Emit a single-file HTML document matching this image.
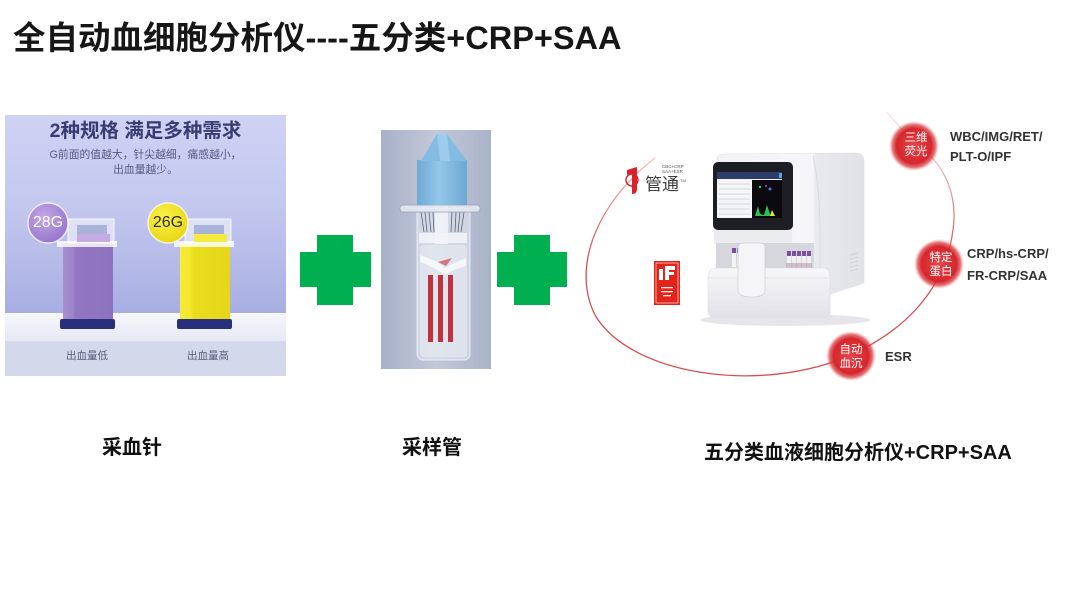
<!DOCTYPE html>
<html>
<head>
<meta charset="utf-8">
<style>
  html,body{margin:0;padding:0;}
  body{width:1080px;height:608px;position:relative;background:#ffffff;overflow:hidden;
       font-family:"Liberation Sans","Noto Sans CJK SC",sans-serif;}
  .t{position:absolute;white-space:nowrap;}
  svg{position:absolute;left:0;top:0;}
</style>
</head>
<body>
<svg width="1080" height="608" viewBox="0 0 1080 608" xmlns="http://www.w3.org/2000/svg">
  <defs>
    <linearGradient id="bgL" x1="0" y1="115" x2="0" y2="313" gradientUnits="userSpaceOnUse">
      <stop offset="0" stop-color="#cfd2f3"/>
      <stop offset="0.45" stop-color="#c4c8ef"/>
      <stop offset="1" stop-color="#a8aee2"/>
    </linearGradient>
    <linearGradient id="floor" x1="0" y1="313" x2="0" y2="341" gradientUnits="userSpaceOnUse">
      <stop offset="0" stop-color="#f6f7fc"/>
      <stop offset="1" stop-color="#e6e8f4"/>
    </linearGradient>
    <linearGradient id="purp" x1="0" y1="0" x2="1" y2="0">
      <stop offset="0" stop-color="#a88fd0"/>
      <stop offset="0.2" stop-color="#9c82c9"/>
      <stop offset="0.25" stop-color="#9276c2"/>
      <stop offset="1" stop-color="#8d72bf"/>
    </linearGradient>
    <linearGradient id="yel" x1="0" y1="0" x2="1" y2="0">
      <stop offset="0" stop-color="#f5ec3a"/>
      <stop offset="0.22" stop-color="#f3e62a"/>
      <stop offset="0.27" stop-color="#ebdc1c"/>
      <stop offset="1" stop-color="#e6d61a"/>
    </linearGradient>
    <radialGradient id="pbadge" cx="0.4" cy="0.35" r="0.7">
      <stop offset="0" stop-color="#c3a8e6"/>
      <stop offset="1" stop-color="#9473cc"/>
    </radialGradient>
    <radialGradient id="ybadge" cx="0.4" cy="0.35" r="0.7">
      <stop offset="0" stop-color="#fbf24a"/>
      <stop offset="1" stop-color="#e8d512"/>
    </radialGradient>
    <linearGradient id="tubeBg" x1="0" y1="0" x2="1" y2="0">
      <stop offset="0" stop-color="#a9b1c8"/>
      <stop offset="0.5" stop-color="#c2c8d8"/>
      <stop offset="1" stop-color="#aab2c9"/>
    </linearGradient>
    <linearGradient id="capB" x1="0" y1="0" x2="1" y2="0">
      <stop offset="0" stop-color="#6fa9d6"/>
      <stop offset="0.45" stop-color="#93c6e8"/>
      <stop offset="1" stop-color="#6ea7d4"/>
    </linearGradient>
    <linearGradient id="arcG" x1="0" y1="105" x2="0" y2="260" gradientUnits="userSpaceOnUse">
      <stop offset="0" stop-color="#e06a6a" stop-opacity="0.15"/>
      <stop offset="1" stop-color="#d23a3e" stop-opacity="0.9"/>
    </linearGradient>
    <radialGradient id="bub" cx="0.5" cy="0.5" r="0.5">
      <stop offset="0" stop-color="#e4474b"/>
      <stop offset="0.7" stop-color="#d6262c"/>
      <stop offset="0.86" stop-color="#d8353a" stop-opacity="0.7"/>
      <stop offset="1" stop-color="#ec8a8a" stop-opacity="0"/>
    </radialGradient>
    <linearGradient id="mBody" x1="0" y1="0" x2="1" y2="0">
      <stop offset="0" stop-color="#f2f2f4"/>
      <stop offset="0.65" stop-color="#f6f6f8"/>
      <stop offset="0.67" stop-color="#e8e9ec"/>
      <stop offset="1" stop-color="#e1e2e6"/>
    </linearGradient>
    <linearGradient id="mBase" x1="0" y1="0" x2="0" y2="1">
      <stop offset="0" stop-color="#f7f7f9"/>
      <stop offset="1" stop-color="#e2e2e6"/>
    </linearGradient>
  </defs>

  <!-- ========== Lancet panel ========== -->
  <rect x="5" y="115" width="281" height="198" fill="url(#bgL)"/>
  <rect x="5" y="313" width="281" height="28" fill="url(#floor)"/>
  <rect x="5" y="341" width="281" height="35" fill="#d4d8eb"/>

  <!-- purple lancet -->
  <rect x="63" y="243" width="50" height="80" fill="url(#purp)"/>
  <rect x="60" y="319" width="55" height="10" rx="2" fill="#28307c"/>
  <rect x="57" y="241" width="60" height="6" fill="#ffffff" fill-opacity="0.8"/>
  <rect x="68" y="219" width="46" height="24" fill="#ffffff" fill-opacity="0.5" stroke="#ffffff" stroke-opacity="0.8"/>
  <rect x="77" y="225" width="30" height="9" fill="#a9b2d8"/>
  <rect x="77" y="234" width="33" height="8" fill="#c6aae3"/>
  <circle cx="48" cy="223" r="20" fill="url(#pbadge)" stroke="#ffffff" stroke-opacity="0.75" stroke-width="1.5"/>

  <!-- yellow lancet -->
  <rect x="180" y="243" width="50" height="80" fill="url(#yel)"/>
  <rect x="177" y="319" width="55" height="10" rx="2" fill="#28307c"/>
  <rect x="174" y="241" width="60" height="6" fill="#ffffff" fill-opacity="0.8"/>
  <rect x="185" y="219" width="46" height="24" fill="#ffffff" fill-opacity="0.5" stroke="#ffffff" stroke-opacity="0.8"/>
  <rect x="194" y="225" width="30" height="9" fill="#a9b2d8"/>
  <rect x="194" y="234" width="33" height="8" fill="#f4ea40"/>
  <circle cx="168" cy="223" r="20" fill="url(#ybadge)" stroke="#ffffff" stroke-opacity="0.75" stroke-width="1.5"/>

  <!-- ========== green crosses ========== -->
  <rect x="317" y="235" width="36" height="70" fill="#00b050"/>
  <rect x="300" y="252" width="71" height="35" fill="#00b050"/>
  <rect x="514" y="235" width="36" height="70" fill="#00b050"/>
  <rect x="497" y="252" width="70" height="35" fill="#00b050"/>

  <!-- ========== Tube panel ========== -->
  <rect x="381" y="130" width="110" height="239" fill="url(#tubeBg)"/>
  <rect x="417" y="208" width="53" height="152" rx="6" fill="#e4e9f2" fill-opacity="0.55" stroke="#f4f6fa" stroke-opacity="0.8"/>
  <rect x="420" y="245" width="47" height="112" rx="4" fill="#eef1f7" fill-opacity="0.45"/>
  <g stroke="#5d6373" stroke-width="0.8">
    <line x1="421" y1="212" x2="424" y2="232"/><line x1="425" y1="212" x2="427" y2="232"/>
    <line x1="429" y1="212" x2="431" y2="232"/><line x1="433" y1="212" x2="434" y2="232"/>
    <line x1="452" y1="212" x2="451" y2="232"/><line x1="456" y1="212" x2="455" y2="232"/>
    <line x1="460" y1="212" x2="458" y2="232"/><line x1="464" y1="212" x2="461" y2="232"/>
  </g>
  <rect x="435" y="200" width="13" height="44" fill="#f1f3f8" fill-opacity="0.9"/>
  <rect x="419" y="233" width="48" height="10" fill="#f3f5f9" fill-opacity="0.85"/>
  <path d="M420 255 Q 440 262 445 268 Q 455 262 466 258 L 466 266 Q 452 270 445 275 Q 432 266 420 262 Z" fill="#ffffff" fill-opacity="0.7"/>
  <path d="M438 262 L 452 258 L 446 266 Z" fill="#d25a66" fill-opacity="0.8"/>
  <rect x="428" y="275" width="5" height="67" fill="#c2323e"/>
  <rect x="438" y="275" width="5" height="67" fill="#c2323e"/>
  <rect x="448" y="275" width="5" height="67" fill="#c2323e"/>
  <rect x="400" y="205" width="80" height="7" rx="3" fill="#e6eaf2" fill-opacity="0.85" stroke="#98a0b4" stroke-width="0.8"/>
  <rect x="417" y="160" width="50" height="45" fill="url(#capB)"/>
  <polygon points="421,161 437,134 447,134 465,158 465,161" fill="#84bbe2"/>
  <polygon points="437,134 447,134 450,161 440,161" fill="#9ccbeb"/>

  <!-- ========== Right: analyzer ========== -->
  <path d="M655 158 C 600 200, 570 265, 595 315 C 630 375, 760 395, 851 355 C 905 330, 945 290, 953 230 C 958 195, 945 165, 918 145 C 905 133, 895 122, 887 112"
        fill="none" stroke="url(#arcG)" stroke-width="1.3"/>

  <!-- logo -->
  <path d="M627 170 L 637 167 L 637 189 Q 637 194 632 194 L 632 174 L 627 175 Z" fill="#d8232a"/>
  <circle cx="632" cy="180" r="6" fill="none" stroke="#d8232a" stroke-width="1.4"/>
  <!-- iF award -->
  <rect x="654" y="261" width="26" height="44" fill="#e1251b"/>
  <rect x="656" y="263" width="22" height="40" fill="none" stroke="#ffffff" stroke-width="0.6"/>
  <rect x="659" y="266" width="4" height="14" fill="#ffffff"/>
  <rect x="659" y="266" width="4" height="3" fill="#e1251b"/>
  <rect x="665" y="266" width="10" height="4" fill="#ffffff"/>
  <rect x="665" y="266" width="4" height="14" fill="#ffffff"/>
  <rect x="665" y="272" width="9" height="3" fill="#ffffff"/>
  <g fill="#ffffff" fill-opacity="0.9">
    <rect x="661" y="287" width="12" height="1.3"/>
    <rect x="661" y="291" width="12" height="1.3"/>
    <rect x="663" y="295" width="8" height="1.3"/>
  </g>

  <!-- machine shadow -->
  <ellipse cx="785" cy="320" rx="85" ry="6" fill="#e6e6ea"/>
  <!-- right tower -->
  <path d="M717 160 Q 717 154 724 154 L 855 153 Q 864 153 864 162 L 864 283 L 812 300 L 717 300 Z" fill="url(#mBody)" stroke="#e0e0e4" stroke-width="0.6"/>
  <path d="M813 156 Q 820 190 820 230 L 820 295" fill="none" stroke="#d6d7dc" stroke-width="0.8"/>
  <g stroke="#cfd0d5" stroke-width="0.8">
    <line x1="850" y1="255" x2="858" y2="253"/><line x1="850" y1="259" x2="858" y2="257"/>
    <line x1="850" y1="263" x2="858" y2="261"/><line x1="850" y1="267" x2="858" y2="265"/>
    <line x1="850" y1="271" x2="858" y2="269"/>
  </g>
  <!-- screen bezel -->
  <rect x="713" y="162" width="80" height="68" rx="5" fill="#1c1e23"/>
  <rect x="717" y="172" width="65" height="46" fill="#f4f5f7"/>
  <rect x="717" y="172" width="65" height="7" fill="#2d3d6b"/>
  <rect x="779" y="173" width="3" height="5" fill="#4fa3e3"/>
  <rect x="752" y="180" width="30" height="38" fill="#0a0a0f"/>
  <circle cx="760" cy="187" r="1.2" fill="#38d060"/>
  <circle cx="770" cy="189" r="1.5" fill="#4a7ef0"/>
  <circle cx="766" cy="186" r="1" fill="#d040d0"/>
  <path d="M755 216 L 758 206 L 760 214 L 764 215 L 767 205 L 770 214 L 776 216 Z" fill="#30c050"/>
  <path d="M770 216 L 772 210 L 775 216 Z" fill="#e0e040"/>
  <g stroke="#b8bcc6" stroke-width="0.5">
    <line x1="719" y1="184" x2="750" y2="184"/><line x1="719" y1="189" x2="750" y2="189"/>
    <line x1="719" y1="194" x2="750" y2="194"/><line x1="719" y1="199" x2="750" y2="199"/>
    <line x1="719" y1="204" x2="750" y2="204"/><line x1="719" y1="209" x2="750" y2="209"/>
    <line x1="719" y1="214" x2="750" y2="214"/>
  </g>
  <rect x="714" y="230" width="78" height="14" fill="#ececef"/>
  <rect x="716" y="243" width="98" height="26" fill="#d6d7dc"/>
  <g>
    <rect x="732" y="248" width="4" height="5" fill="#7b4f9c"/>
    <rect x="737" y="248" width="4" height="5" fill="#7b4f9c"/>
    <rect x="732" y="253" width="4" height="14" fill="#f4f4f6"/>
    <rect x="737" y="253" width="4" height="14" fill="#f4f4f6"/>
  </g>
  <g fill="#7b4f9c">
    <rect x="787" y="251" width="4" height="5"/><rect x="792" y="251" width="4" height="5"/>
    <rect x="797" y="251" width="4" height="5"/><rect x="802" y="251" width="4" height="5"/>
    <rect x="807" y="251" width="4" height="5"/>
  </g>
  <g fill="#f1f1f3">
    <rect x="787" y="256" width="4" height="16"/><rect x="792" y="256" width="4" height="16"/>
    <rect x="797" y="256" width="4" height="16"/><rect x="802" y="256" width="4" height="16"/>
    <rect x="807" y="256" width="4" height="16"/>
  </g>
  <rect x="786" y="263" width="26" height="6" fill="#b8a0a8" fill-opacity="0.6"/>
  <path d="M708 278 Q 708 268 718 268 L 822 268 Q 830 268 830 276 L 830 312 Q 830 318 822 318 L 716 318 Q 708 318 708 310 Z" fill="url(#mBase)" stroke="#dcdce0" stroke-width="0.6"/>
  <path d="M708 278 L 830 278" stroke="#e0e0e4" stroke-width="0.8"/>
  <path d="M738 248 Q 738 243 744 243 L 760 243 Q 765 243 765 248 L 765 290 Q 765 297 752 297 Q 738 297 738 290 Z" fill="#f5f5f7" stroke="#d2d3d8" stroke-width="0.8"/>

  <!-- bubbles -->
  <circle cx="914" cy="146" r="25" fill="url(#bub)"/>
  <circle cx="939" cy="264" r="25" fill="url(#bub)"/>
  <circle cx="851" cy="356" r="25" fill="url(#bub)"/>
</svg>

<!-- Title -->
<div class="t" style="left:13px;top:22px;font-size:32.5px;line-height:32px;font-weight:bold;color:#161616;">全自动血细胞分析仪----五分类+CRP+SAA</div>

<!-- lancet panel texts -->
<div class="t" style="left:5px;width:281px;text-align:center;top:121px;font-size:19.5px;line-height:20px;font-weight:bold;color:#383c70;">2种规格 满足多种需求</div>
<div class="t" style="left:5px;width:281px;text-align:center;top:148px;font-size:10.8px;line-height:15px;color:#555a84;">G前面的值越大，针尖越细，痛感越小，<br>出血量越少。</div>
<div class="t" style="left:28px;width:40px;text-align:center;top:214px;font-size:16px;line-height:18px;color:#ffffff;">28G</div>
<div class="t" style="left:148px;width:40px;text-align:center;top:214px;font-size:16px;line-height:18px;color:#2e2a0e;">26G</div>
<div class="t" style="left:57px;width:60px;text-align:center;top:350px;font-size:10.5px;line-height:13px;color:#5a5d74;">出血量低</div>
<div class="t" style="left:178px;width:60px;text-align:center;top:350px;font-size:10.5px;line-height:13px;color:#5a5d74;">出血量高</div>

<!-- logo text -->
<div class="t" style="left:662px;top:164px;font-size:4.5px;line-height:5px;color:#555;">CBC+CRP<br>SAA+ESR</div>
<div class="t" style="left:645px;top:175px;font-size:17px;line-height:19px;color:#3c3c3c;">管通</div>
<div class="t" style="left:680px;top:178px;font-size:4px;line-height:5px;color:#555;">TM</div>

<!-- bubble texts -->
<div class="t" style="left:894px;width:44px;text-align:center;top:132px;font-size:11.5px;line-height:13.5px;color:#ffffff;">三维<br>荧光</div>
<div class="t" style="left:919px;width:44px;text-align:center;top:251px;font-size:11.5px;line-height:14px;color:#ffffff;">特定<br>蛋白</div>
<div class="t" style="left:829px;width:44px;text-align:center;top:343px;font-size:11.5px;line-height:14px;color:#ffffff;">自动<br>血沉</div>

<!-- right labels -->
<div class="t" style="left:950px;top:127px;font-size:13px;line-height:20px;font-weight:bold;color:#333;">WBC/IMG/RET/<br>PLT-O/IPF</div>
<div class="t" style="left:967px;top:243px;font-size:13px;line-height:22px;font-weight:bold;color:#333;">CRP/hs-CRP/<br>FR-CRP/SAA</div>
<div class="t" style="left:885px;top:347px;font-size:13px;line-height:20px;font-weight:bold;color:#333;">ESR</div>

<!-- bottom captions -->
<div class="t" style="left:102px;top:438px;font-size:20px;line-height:20px;font-weight:bold;color:#111;">采血针</div>
<div class="t" style="left:402px;top:438px;font-size:20px;line-height:20px;font-weight:bold;color:#111;">采样管</div>
<div class="t" style="left:704px;top:443px;font-size:20px;line-height:20px;font-weight:bold;color:#111;">五分类血液细胞分析仪+CRP+SAA</div>
</body>
</html>
